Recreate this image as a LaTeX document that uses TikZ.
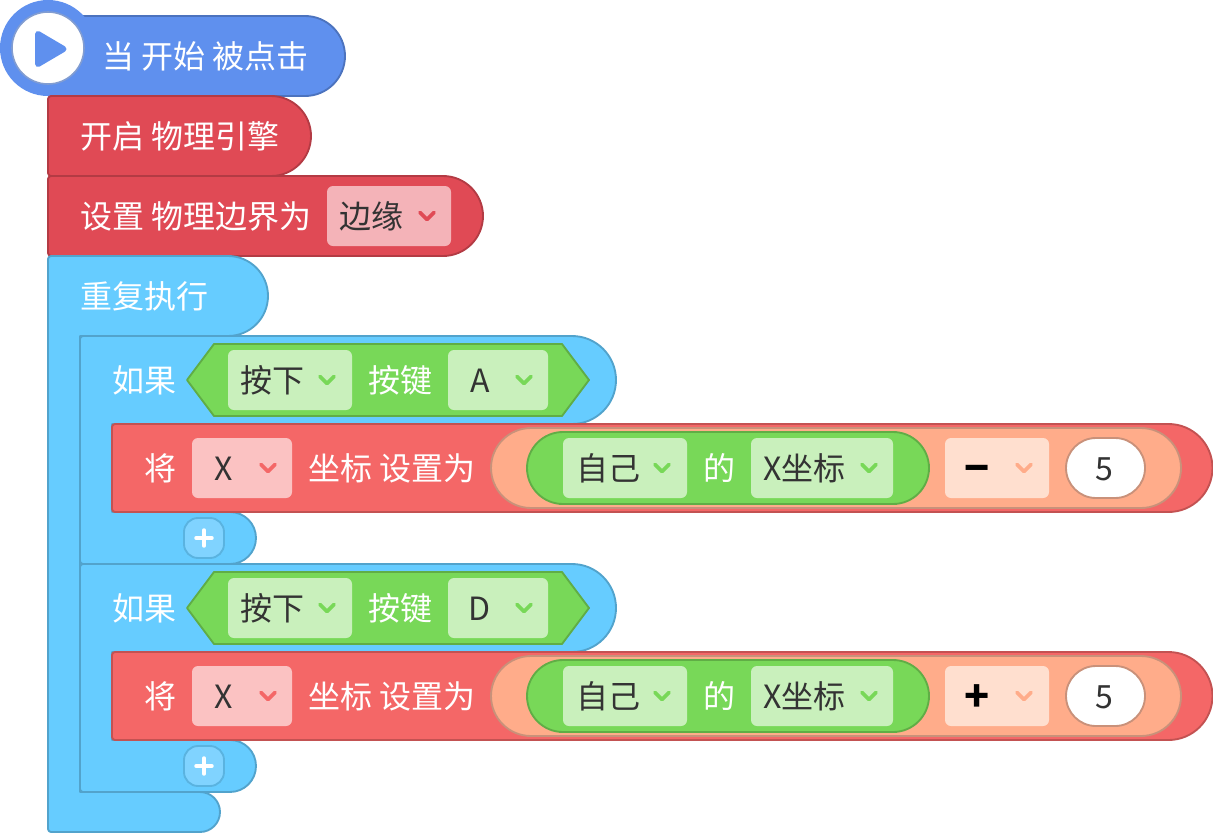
\documentclass[tikz,border=0pt]{standalone}
\usepackage{fontspec}
\setmainfont{Noto Sans CJK SC}
\usepackage{tikz}

\definecolor{startblue}{HTML}{5F90EE}
\definecolor{startedge}{HTML}{4C73BE}
\definecolor{physred}{HTML}{E04A55}
\definecolor{physedge}{HTML}{B33B44}
\definecolor{physdrop}{HTML}{F4B3B8}
\definecolor{loopblue}{HTML}{66CCFF}
\definecolor{loopedge}{HTML}{52A3CC}
\definecolor{plusblue}{HTML}{80D3FF}
\definecolor{setred}{HTML}{F46767}
\definecolor{setedge}{HTML}{C35252}
\definecolor{setdrop}{HTML}{FBC2C2}
\definecolor{condgreen}{HTML}{78D858}
\definecolor{condedge}{HTML}{60AD46}
\definecolor{conddrop}{HTML}{C9F0BC}
\definecolor{mathorange}{HTML}{FFAC8A}
\definecolor{mathedge}{HTML}{C9917A}
\definecolor{mathdrop}{HTML}{FFDFCF}
\definecolor{inktext}{HTML}{333333}

\tikzset{
    edged/.style={line width=1.4pt, line join=round},
    startblock/.style={edged, fill=startblue, draw=startedge},
    physblock/.style={edged, fill=physred, draw=physedge},
    loopblock/.style={edged, fill=loopblue, draw=loopedge},
    setblock/.style={edged, fill=setred, draw=setedge},
    condblock/.style={edged, fill=condgreen, draw=condedge},
    mathblock/.style={edged, fill=mathorange, draw=mathedge},
    dropbox/.style={rounded corners=4.5pt},
    lbl/.style={anchor=base west, inner sep=0pt, text=white,
        font=\fontsize{24}{24}\selectfont},
    inklbl/.style={lbl, text=inktext},
    midlbl/.style={inklbl, anchor=base},
    chev/.pic={\draw[line width=2.7pt, line cap=round, line join=round]
        (-7,-3.5) -- (0,3.5) -- (7,-3.5);}
}

% left, top, right, bottom: flat on the left, a half circle on the right
\newcommand{\capblock}[5]{
    \pgfmathsetmacro{\capr}{(#5-#3)/2}
    \draw[#1] ({#2+3},#3) -- ({#4-\capr},#3) arc (-90:90:\capr)
        -- ({#2+3},#5) arc (90:180:3) -- (#2,{#3+3}) arc (180:270:3) -- cycle;
}

\begin{document}
\begin{tikzpicture}[x=0.75pt, y=-0.75pt]
    \useasboundingbox (0,0) rectangle (1213,832);

    % start block
    \capblock{startblock}{48}{16}{345}{96}
    \fill[startblue] (48,48) circle[radius=48];
    \draw[line width=1.2pt, fill=white, draw=startedge!70!white] (48,48) circle[radius=36];
    \draw[line width=4.5pt, line join=round, fill=startblue, draw=startblue]
        (38,34) -- (63.5,49) -- (38,64) -- cycle;
    \node[lbl] (starttext) at (102,68) {当 开始 被点击};

    % physics blocks
    \capblock{physblock}{48}{96}{311}{176}
    \node[lbl] (enabletext) at (80,148) {开启 物理引擎};
    \capblock{physblock}{48}{176}{483}{256}
    \node[lbl] (boundtext) at (80,228) {设置 物理边界为};
    \fill[physdrop, dropbox] (327,186) rectangle (451,246);
    \node[inklbl] (edgetext) at (339,228) {边缘};
    \pic[color=physred] at (427,216) {chev};

    % repeat block
    \draw[loopblock] (51,256) -- (228,256) arc (-90:90:40) -- (80,336) -- (80,792)
        -- (200,792) arc (-90:90:20) -- (51,832) arc (90:180:3) -- (48,259)
        arc (180:270:3) -- cycle;
    \node[lbl] (repeattext) at (80,308) {重复执行};

    % the two if blocks
    \foreach \yo/\keyname/\opname/\tag in {0/A/−/a, 228/D/+/d} {
        \begin{scope}[yshift=-\yo*0.75pt]
            \draw[loopblock] (83,336) -- (572,336) arc (-90:90:44) -- (112,424)
                -- (112,512) -- (230,512) arc (-90:90:26) -- (83,564)
                arc (90:180:3) -- (80,339) arc (180:270:3) -- cycle;
            \node[lbl] (iftext\tag) at (112,392) {如果};

            \draw[condblock] (187,380) -- (214,344) -- (562,344) -- (589,380)
                -- (562,416) -- (214,416) -- cycle;
            \fill[conddrop, dropbox] (228,350) rectangle (352,410);
            \node[inklbl] (presstext\tag) at (240,392) {按下};
            \pic[color=condgreen] at (327,380) {chev};
            \node[lbl] (keytext\tag) at (368,392) {按键};
            \fill[conddrop, dropbox] (448,350) rectangle (548,410);
            \node[midlbl] (keyname\tag) at (480,392) {\keyname};
            \pic[color=condgreen] at (524,380) {chev};

            \capblock{setblock}{112}{424}{1212.5}{512}
            \node[lbl] (settext\tag) at (144,480) {将};
            \fill[setdrop, dropbox] (192,438) rectangle (292,498);
            \node[midlbl] (varname\tag) at (224,480) {X};
            \pic[color=setred] at (268,468) {chev};
            \node[lbl] (coordtext\tag) at (308,480) {坐标 设置为};

            \draw[mathblock] (531,428) -- (1141,428) arc (-90:90:40) -- (531,508)
                arc (90:270:40) -- cycle;
            \draw[condblock] (563,432) -- (893,432) arc (-90:90:36) -- (563,504)
                arc (90:270:36) -- cycle;
            \fill[conddrop, dropbox] (563,438) rectangle (687,498);
            \node[inklbl] (selftext\tag) at (576,480) {自己};
            \pic[color=condgreen] at (662,468) {chev};
            \node[lbl] (oftext\tag) at (703,480) {的};
            \fill[conddrop, dropbox] (751,438) rectangle (893,498);
            \node[inklbl] (xcoord\tag) at (763,480) {X坐标};
            \pic[color=condgreen] at (869,468) {chev};

            \fill[mathdrop, dropbox] (945,438) rectangle (1049,498);
            \node[midlbl, text=black, font=\fontsize{31}{31}\selectfont\bfseries]
                (optext\tag) at (977,483) {\opname};
            \pic[color=mathorange] at (1024,468) {chev};
            \draw[edged, fill=white, draw=mathedge] (1096,438) -- (1115,438)
                arc (-90:90:30) -- (1096,498) arc (90:270:30) -- cycle;
            \node[midlbl] (numtext\tag) at (1104,480) {5};

            \draw[line width=1.4pt, fill=plusblue, draw=loopedge!60!loopblue,
                rounded corners=10.5pt] (184,518) rectangle (224,558);
            \draw[line width=2.6pt, white, line cap=round] (196,538) -- (212,538);
            \draw[line width=2.6pt, white, line cap=round] (204,530) -- (204,546);
        \end{scope}
    }
\end{tikzpicture}
\end{document}
